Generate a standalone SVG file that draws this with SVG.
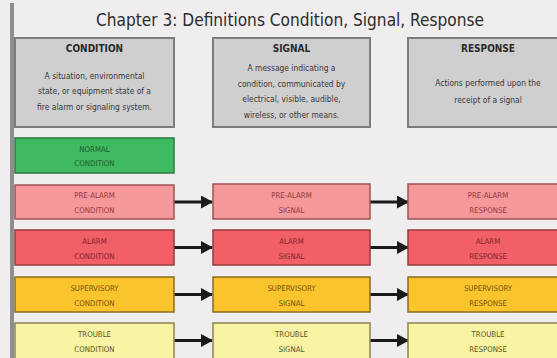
<svg xmlns="http://www.w3.org/2000/svg" width="557" height="358" viewBox="0 0 557 358">
  <style>
    text { font-family: "DejaVu Sans Condensed", "DejaVu Sans", "Liberation Sans", sans-serif; font-stretch: condensed; text-anchor: middle; }
    .title { font-size: 17px; fill: #2c2c2c; }
    .head { fill: #cfcfcf; stroke: #7c7c7c; stroke-width: 2; }
    .hname { font-size: 10px; font-weight: bold; fill: #2a2a2a; }
    .desc { font-size: 8.4px; fill: #363636; }
    .lbl { font-size: 7.8px; }
    .normal rect { fill: #3fba60; stroke: #2a7a40; stroke-width: 1.5; }
    .normal text { fill: #1e5a2c; }
    .prealarm rect { fill: #f4989c; stroke: #a05252; stroke-width: 1.5; }
    .prealarm text { fill: #953838; }
    .alarm rect { fill: #f15f67; stroke: #983a3c; stroke-width: 1.5; }
    .alarm text { fill: #862628; }
    .super rect { fill: #fbc42c; stroke: #8a6c22; stroke-width: 1.5; }
    .super text { fill: #74520e; }
    .trouble rect { fill: #f9f3a4; stroke: #8a8452; stroke-width: 1.5; }
    .trouble text { fill: #5a5622; }
    .conn line { stroke: #1a1a1a; stroke-width: 3; }
  </style>
  <defs>
    <marker id="arrow" markerUnits="userSpaceOnUse" markerWidth="12" markerHeight="13" refX="11" refY="6.5" orient="auto">
      <path d="M0,0 L12,6.5 L0,13 Z" fill="#1a1a1a"/>
    </marker>
  </defs>

  <!-- page background and left edge -->
  <rect x="0" y="0" width="557" height="358" fill="#efedee"/>
  <rect x="10" y="3" width="4" height="355" fill="#8e8e8e"/>

  <text class="title" x="290" y="26" textLength="388" lengthAdjust="spacingAndGlyphs">Chapter 3: Definitions Condition, Signal, Response</text>

  <!-- column headers -->
  <g id="hdr-condition">
    <rect class="head" x="15" y="38" width="159" height="89"/>
    <text class="hname" x="94.5" y="52">CONDITION</text>
    <text class="desc" x="94.5" y="79">A situation, environmental</text>
    <text class="desc" x="94.5" y="94">state, or equipment state of a</text>
    <text class="desc" x="94.5" y="110">fire alarm or signaling system.</text>
  </g>
  <g id="hdr-signal">
    <rect class="head" x="213" y="38" width="157" height="89"/>
    <text class="hname" x="291.5" y="52">SIGNAL</text>
    <text class="desc" x="291.5" y="71">A message indicating a</text>
    <text class="desc" x="291.5" y="87">condition, communicated by</text>
    <text class="desc" x="291.5" y="102">electrical, visible, audible,</text>
    <text class="desc" x="291.5" y="118">wireless, or other means.</text>
  </g>
  <g id="hdr-response">
    <rect class="head" x="408" y="38" width="160" height="89"/>
    <text class="hname" x="488" y="52">RESPONSE</text>
    <text class="desc" x="488" y="86">Actions performed upon the</text>
    <text class="desc" x="488" y="103">receipt of a signal</text>
  </g>

  <!-- connectors -->
  <g id="connectors" class="conn">
    <line x1="174" y1="202" x2="212" y2="202" marker-end="url(#arrow)"/>
    <line x1="370" y1="202" x2="408" y2="202" marker-end="url(#arrow)"/>
    <line x1="174" y1="247.5" x2="212" y2="247.5" marker-end="url(#arrow)"/>
    <line x1="370" y1="247.5" x2="408" y2="247.5" marker-end="url(#arrow)"/>
    <line x1="174" y1="294.5" x2="212" y2="294.5" marker-end="url(#arrow)"/>
    <line x1="370" y1="294.5" x2="408" y2="294.5" marker-end="url(#arrow)"/>
    <line x1="174" y1="340.5" x2="212" y2="340.5" marker-end="url(#arrow)"/>
    <line x1="370" y1="340.5" x2="408" y2="340.5" marker-end="url(#arrow)"/>
  </g>

  <!-- normal -->
  <g id="normal-condition" class="normal">
    <rect x="15" y="138" width="159" height="35"/>
    <text class="lbl" x="94.5" y="152">NORMAL</text>
    <text class="lbl" x="94.5" y="166">CONDITION</text>
  </g>

  <!-- pre-alarm -->
  <g id="prealarm-condition" class="prealarm">
    <rect x="15" y="185" width="159" height="34"/>
    <text class="lbl" x="94.5" y="198">PRE-ALARM</text>
    <text class="lbl" x="94.5" y="213">CONDITION</text>
  </g>
  <g id="prealarm-signal" class="prealarm">
    <rect x="213" y="184" width="157" height="35"/>
    <text class="lbl" x="291.5" y="198">PRE-ALARM</text>
    <text class="lbl" x="291.5" y="213">SIGNAL</text>
  </g>
  <g id="prealarm-response" class="prealarm">
    <rect x="408" y="184" width="160" height="35"/>
    <text class="lbl" x="488" y="198">PRE-ALARM</text>
    <text class="lbl" x="488" y="213">RESPONSE</text>
  </g>

  <!-- alarm -->
  <g id="alarm-condition" class="alarm">
    <rect x="15" y="230" width="159" height="35"/>
    <text class="lbl" x="94.5" y="244">ALARM</text>
    <text class="lbl" x="94.5" y="259">CONDITION</text>
  </g>
  <g id="alarm-signal" class="alarm">
    <rect x="213" y="230" width="157" height="35"/>
    <text class="lbl" x="291.5" y="244">ALARM</text>
    <text class="lbl" x="291.5" y="259">SIGNAL</text>
  </g>
  <g id="alarm-response" class="alarm">
    <rect x="408" y="230" width="160" height="35"/>
    <text class="lbl" x="488" y="244">ALARM</text>
    <text class="lbl" x="488" y="259">RESPONSE</text>
  </g>

  <!-- supervisory -->
  <g id="supervisory-condition" class="super">
    <rect x="15" y="277" width="159" height="35"/>
    <text class="lbl" x="94.5" y="291">SUPERVISORY</text>
    <text class="lbl" x="94.5" y="306">CONDITION</text>
  </g>
  <g id="supervisory-signal" class="super">
    <rect x="213" y="277" width="157" height="35"/>
    <text class="lbl" x="291.5" y="291">SUPERVISORY</text>
    <text class="lbl" x="291.5" y="306">SIGNAL</text>
  </g>
  <g id="supervisory-response" class="super">
    <rect x="408" y="277" width="160" height="35"/>
    <text class="lbl" x="488" y="291">SUPERVISORY</text>
    <text class="lbl" x="488" y="306">RESPONSE</text>
  </g>

  <!-- trouble -->
  <g id="trouble-condition" class="trouble">
    <rect x="15" y="323" width="159" height="40"/>
    <text class="lbl" x="94.5" y="337">TROUBLE</text>
    <text class="lbl" x="94.5" y="352">CONDITION</text>
  </g>
  <g id="trouble-signal" class="trouble">
    <rect x="213" y="323" width="157" height="40"/>
    <text class="lbl" x="291.5" y="337">TROUBLE</text>
    <text class="lbl" x="291.5" y="352">SIGNAL</text>
  </g>
  <g id="trouble-response" class="trouble">
    <rect x="408" y="323" width="160" height="40"/>
    <text class="lbl" x="488" y="337">TROUBLE</text>
    <text class="lbl" x="488" y="352">RESPONSE</text>
  </g>
</svg>
